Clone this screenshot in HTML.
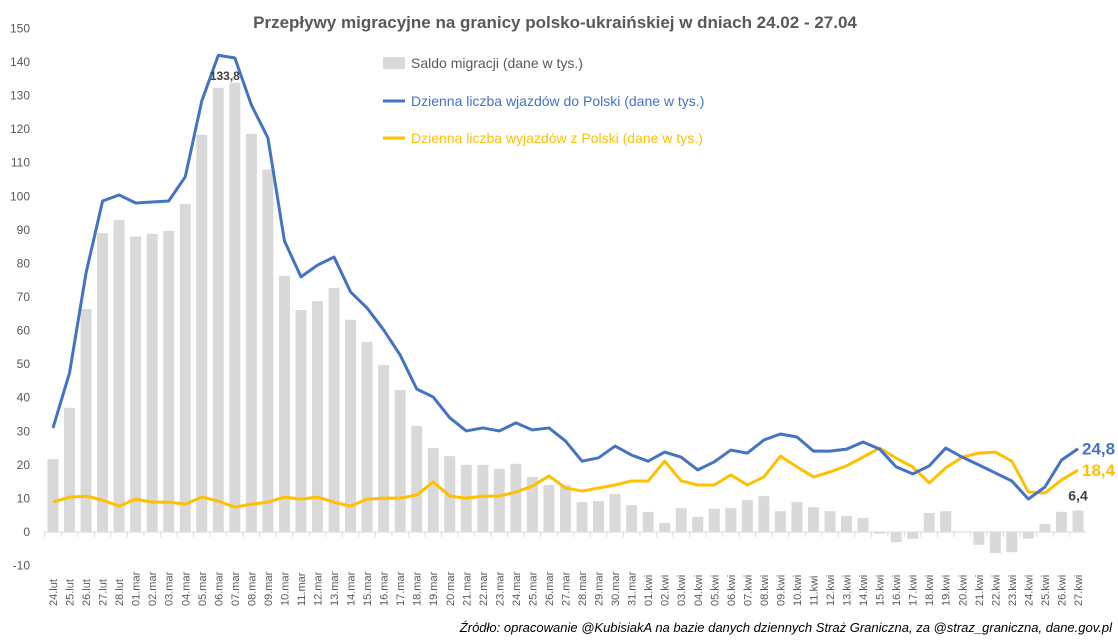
<!DOCTYPE html>
<html><head><meta charset="utf-8"><style>
body{margin:0;background:#fff;font-family:"Liberation Sans",sans-serif}
svg{display:block}
</style></head><body>
<svg id="c" width="1118" height="642" xmlns="http://www.w3.org/2000/svg">
<text x="555" y="28" text-anchor="middle" font-size="17" font-weight="bold" fill="#595959">Przepływy migracyjne na granicy polsko-ukraińskiej  w dniach 24.02 - 27.04</text>
<g>
<rect x="383" y="57" width="22" height="12" fill="#d9d9d9"/>
<text x="411" y="68" font-size="14" fill="#595959">Saldo migracji (dane w tys.)</text>
<line x1="383" y1="101" x2="405" y2="101" stroke="#4472c4" stroke-width="3"/>
<text x="411" y="106" font-size="14" fill="#4472c4">Dzienna liczba wjazdów do Polski (dane w tys.)</text>
<line x1="383" y1="138" x2="405" y2="138" stroke="#ffc000" stroke-width="3"/>
<text x="411" y="143" font-size="14" fill="#ffc000">Dzienna liczba wyjazdów z Polski (dane w tys.)</text>
</g>
<text x="1112" y="632" text-anchor="end" font-size="13" font-style="italic" fill="#000">Źródło: opracowanie @KubisiakA na bazie danych dziennych Straż Graniczna, za @straz_graniczna, dane.gov.pl</text>
</svg>
<script>
const yTicks=[-10,0,10,20,30,40,50,60,70,80,90,100,110,120,130,140,150];
const saldo=[21.7,37,66.4,89,92.9,
88,88.8,89.7,97.7,118.3,132.3,133.8,118.6,108,76.3,66.1,68.8,72.7,63.2,56.6,49.7,42.3,31.6,25,22.6,20,20,18.8,20.3,16.4,14,14,8.9,9.2,11.3,8,
6,2.7,7.1,4.5,6.9,7.1,9.5,10.7,6.2,8.9,7.4,6.2,4.8,4.2,-0.5,-3,-2,5.7,6.2,0.1,-3.8,-6.3,-6,-2,2.4,6,6.4];
const entries=[31,47.4,77.2,98.6,100.4,
98,98.3,98.6,105.8,128.4,142,141.2,127.2,117.4,86.7,76,79.5,81.9,71.5,66.7,60.2,52.7,42.6,40.2,34,30.1,31,30.1,32.5,30.4,31,27.1,21.1,22.1,25.6,22.9,
21.1,23.8,22.3,18.5,20.9,24.4,23.5,27.4,29.2,28.3,24.1,24.1,24.7,26.8,24.7,19.4,17.3,19.7,25,22.3,20,17.6,15.2,9.8,13.4,21.4,24.8];
const exits=[8.9,10.4,10.7,9.5,7.7,
9.8,8.9,8.9,8.3,10.4,9.2,7.4,8.3,8.9,10.4,9.8,10.4,8.9,7.7,9.8,10.1,10.1,11,14.9,10.7,10.1,10.7,10.7,11.9,13.7,16.7,13.1,12.2,13.1,14,15.2,
15.2,21.1,15.2,14,14,17,14,16.4,22.6,19.4,16.4,17.9,19.7,22.3,25,22,19.4,14.6,19.1,22.3,23.5,23.8,21.1,11.9,11.6,15.5,18.4];
const months=[["lut",24,28],["mar",1,31],["kwi",1,27]];
const categories=[];
months.forEach(m=>{for(let d=m[1];d<=m[2];d++)categories.push((d<10?"0":"")+d+"."+m[0]);});
const NS="http://www.w3.org/2000/svg";
const svg=document.getElementById("c");
const x0=53,step=(1078-53)/62;
const xs=i=>x0+i*step;
const ys=v=>532-v*(470/140);
function mk(t,a,p){const e=document.createElementNS(NS,t);for(const k in a)e.setAttribute(k,a[k]);(p||svg).appendChild(e);return e;}
const gy=mk("g",{});


yTicks.forEach(v=>{const t=mk("text",{x:30,y:ys(v)+4,"text-anchor":"end","font-size":12,fill:"#595959"},gy);t.textContent=v;

});
const gb=mk("g",{});


saldo.forEach((v,i)=>{const r=mk("rect",{x:xs(i)-5.5,y:Math.min(ys(v),ys(0)),width:11,height:Math.abs(ys(v)-ys(0)),fill:"#d9d9d9"},gb);

});
const ax=mk("line",{x1:xs(0)-step/2,x2:xs(62)+step/2,y1:532,y2:532,stroke:"#d9d9d9","stroke-width":1});


const gx=mk("g",{});


categories.forEach((c,i)=>{
mk("line",{x1:xs(i)-step/2,x2:xs(i)-step/2,y1:532,y2:537,stroke:"#d9d9d9"},gx);
const t=mk("text",{x:0,y:0,transform:`translate(${xs(i)+4},${606}) rotate(-90)`,"font-size":11,fill:"#595959"},gx);t.textContent=c;

});
function line(arr,col,name){const p=mk("polyline",{points:arr.map((v,i)=>xs(i)+","+ys(v)).join(" "),fill:"none",stroke:col,"stroke-width":3,"stroke-linejoin":"round"});

}
line(exits,"#ffc000","exits-line");
line(entries,"#4472c4","entries-line");
const L=62;
const l1=mk("text",{x:xs(L)+4,y:ys(entries[L])+6,"font-size":17,"font-weight":"bold",fill:"#4472c4"});l1.textContent=String(entries[L]).replace(".",",");


const l2=mk("text",{x:xs(L)+4,y:ys(exits[L])+6,"font-size":17,"font-weight":"bold",fill:"#ffc000"});l2.textContent=String(exits[L]).replace(".",",");


const l3=mk("text",{x:xs(L),y:ys(saldo[L])-10,"text-anchor":"middle","font-size":14,"font-weight":"bold",fill:"#404040"});l3.textContent=String(saldo[L]).replace(".",",");


let mi=saldo.indexOf(Math.max(...saldo));
const l4=mk("text",{x:xs(mi)-10,y:ys(saldo[mi])-3,"text-anchor":"middle","font-size":12,"font-weight":"bold",fill:"#404040"});l4.textContent=String(saldo[mi]).replace(".",",");


</script>
</body></html>
